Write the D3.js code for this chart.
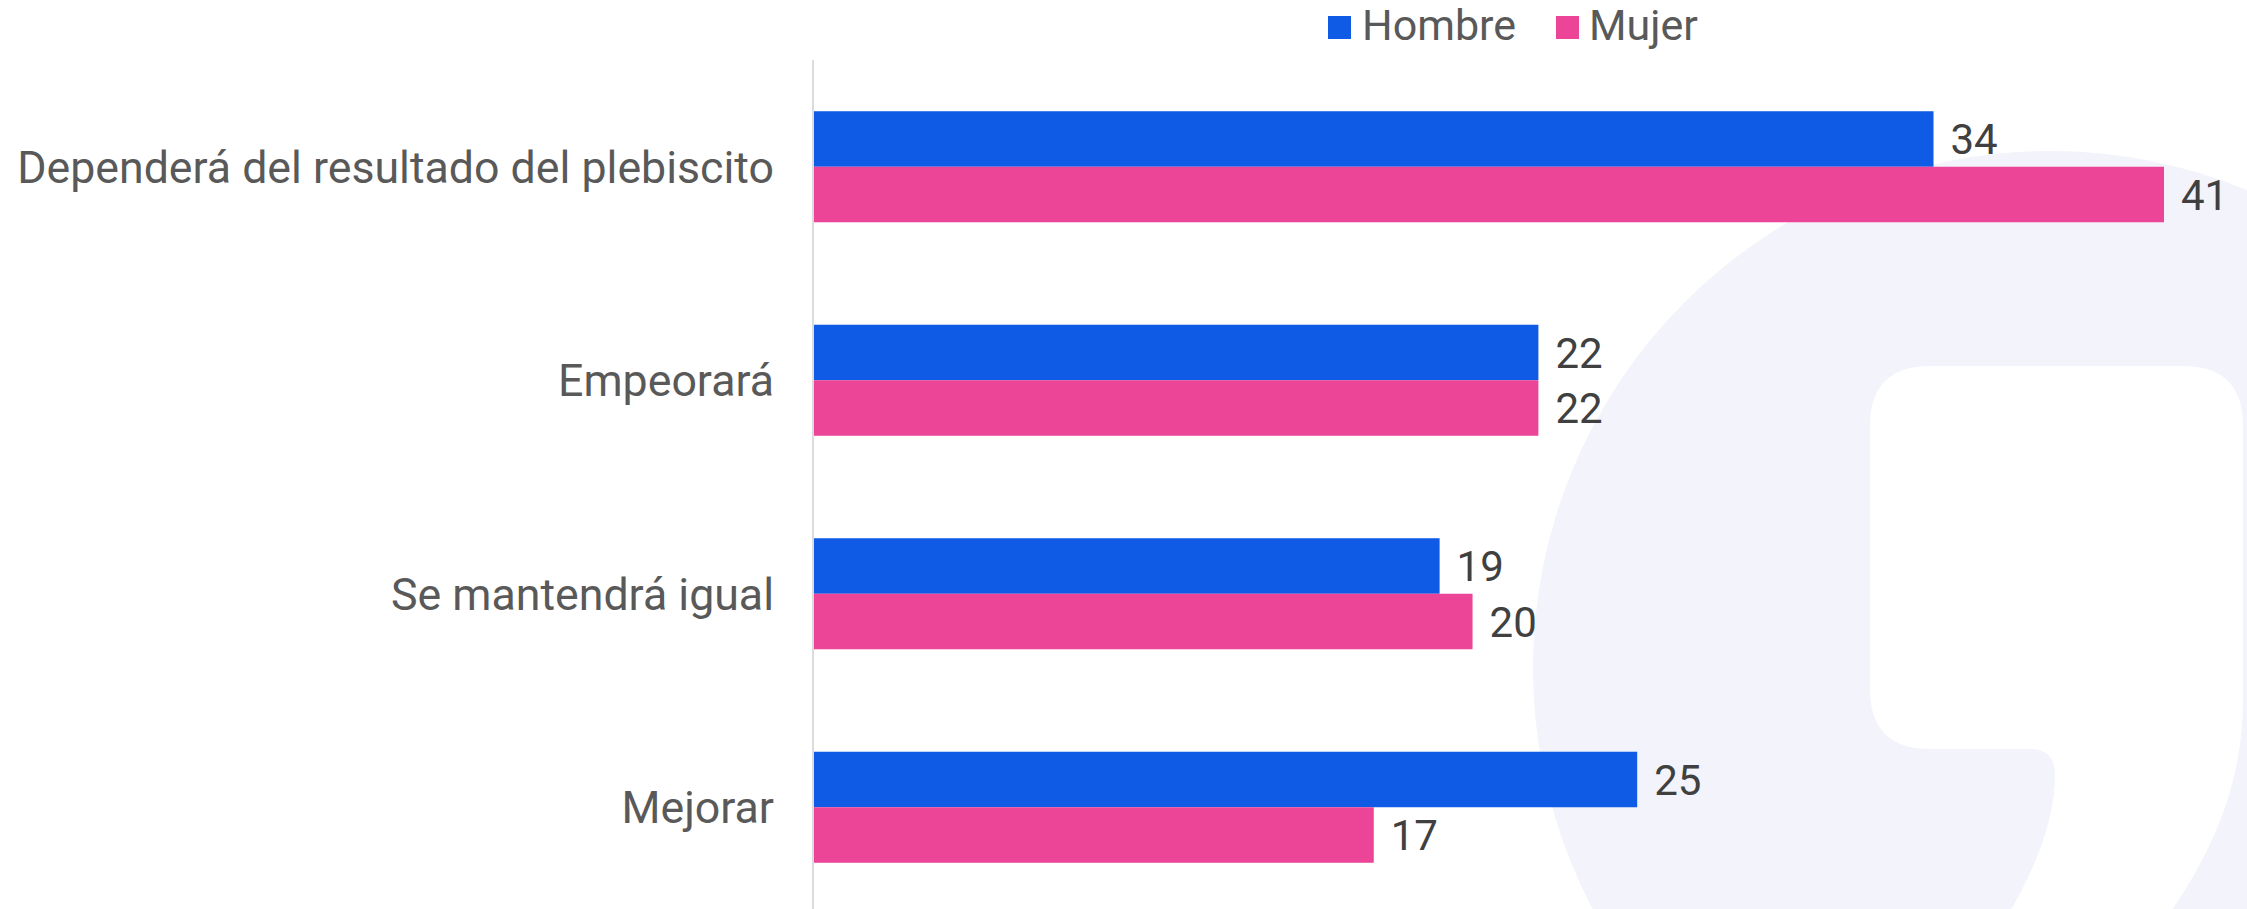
<!DOCTYPE html>
<html>
<head>
<meta charset="utf-8">
<script src="https://cdn.jsdelivr.net/npm/d3@7"></script>
<style>
  html, body { margin: 0; padding: 0; background: #fff; }
  svg { display: block; }
  text { font-family: Roboto, "Noto Sans", sans-serif; }
</style>
</head>
<body>
<svg id="chart" width="2247" height="909"></svg>
<script>
const categories = [
  "Dependerá del resultado del plebiscito",
  "Empeorará",
  "Se mantendrá igual",
  "Mejorar"
];
const seriesNames = ["Hombre", "Mujer"];
const hombreValues = [34, 22, 19, 25];
const mujerValues = [41, 22, 20, 17];
const seriesColors = ["#0F5BE5", "#EC4497"];

const W = 2247, H = 909;
const svg = d3.select("#chart");

// background watermark
const bg = svg.append("g");
bg.append("circle").attr("cx", 2050).attr("cy", 668).attr("r", 517).attr("fill", "#F2F3FB");
bg.append("path")
  .attr("fill", "#ffffff")
  .attr("d", "M1930,366 L2183,366 Q2243,366 2243,426 L2243,700 C2243,780 2215,850 2165,920 L2160,940 L2000,940 L2005,920 C2035,870 2055,820 2055,775 Q2055,749 2030,749 L1930,749 Q1870,749 1870,689 L1870,426 Q1870,366 1930,366 Z");

const data = categories.map((c, i) => ({
  category: c,
  values: [
    { series: seriesNames[0], value: hombreValues[i] },
    { series: seriesNames[1], value: mujerValues[i] }
  ]
}));

const x = d3.scaleLinear().domain([0, 41]).range([814, 2164]);
const y = d3.scaleBand().domain(categories).range([60, 914]).paddingInner(0.48).paddingOuter(0.24);
const ySub = d3.scaleBand().domain(seriesNames).range([0, y.bandwidth()]);
const color = d3.scaleOrdinal().domain(seriesNames).range(seriesColors);

// axis line
svg.append("line")
  .attr("x1", 813).attr("x2", 813).attr("y1", 60).attr("y2", H)
  .attr("stroke", "#dcdcdc").attr("stroke-width", 2);

const groups = svg.append("g").selectAll("g")
  .data(data).join("g")
  .attr("transform", d => `translate(0,${y(d.category)})`);

groups.selectAll("rect")
  .data(d => d.values).join("rect")
  .attr("x", x(0))
  .attr("y", d => ySub(d.series))
  .attr("width", d => x(d.value) - x(0))
  .attr("height", ySub.bandwidth())
  .attr("fill", d => color(d.series));

groups.selectAll("text.val")
  .data(d => d.values).join("text")
  .attr("class", "val")
  .attr("x", d => x(d.value) + 17)
  .attr("y", d => ySub(d.series) + ySub.bandwidth() / 2)
  .attr("dy", "0.36em")
  .attr("font-size", 42)
  .attr("fill", "#404040")
  .text(d => d.value);

// category labels
const catLabels = svg.append("g").selectAll("text")
  .data(categories).join("text")
  .attr("x", 774)
  .attr("y", d => y(d) + y.bandwidth() / 2)
  .attr("dy", "0.36em")
  .attr("text-anchor", "end")
  .attr("font-size", 40)
  .attr("fill", "#595959")
  .text(d => d);
const wLong = catLabels.nodes()[0].getComputedTextLength();
const catSize = 40 * 757 / wLong;
catLabels.attr("font-size", catSize);

// legend
const legendPos = [{ sx: 1328, tx: 1362 }, { sx: 1556, tx: 1589 }];
const legend = svg.append("g").selectAll("g")
  .data(seriesNames).join("g");
legend.append("rect")
  .attr("x", (d, i) => legendPos[i].sx).attr("y", 16)
  .attr("width", 23).attr("height", 23)
  .attr("fill", d => color(d));
legend.append("text")
  .attr("x", (d, i) => legendPos[i].tx).attr("y", 40)
  .attr("font-size", 43)
  .attr("fill", "#595959")
  .text(d => d);
</script>
</body>
</html>
